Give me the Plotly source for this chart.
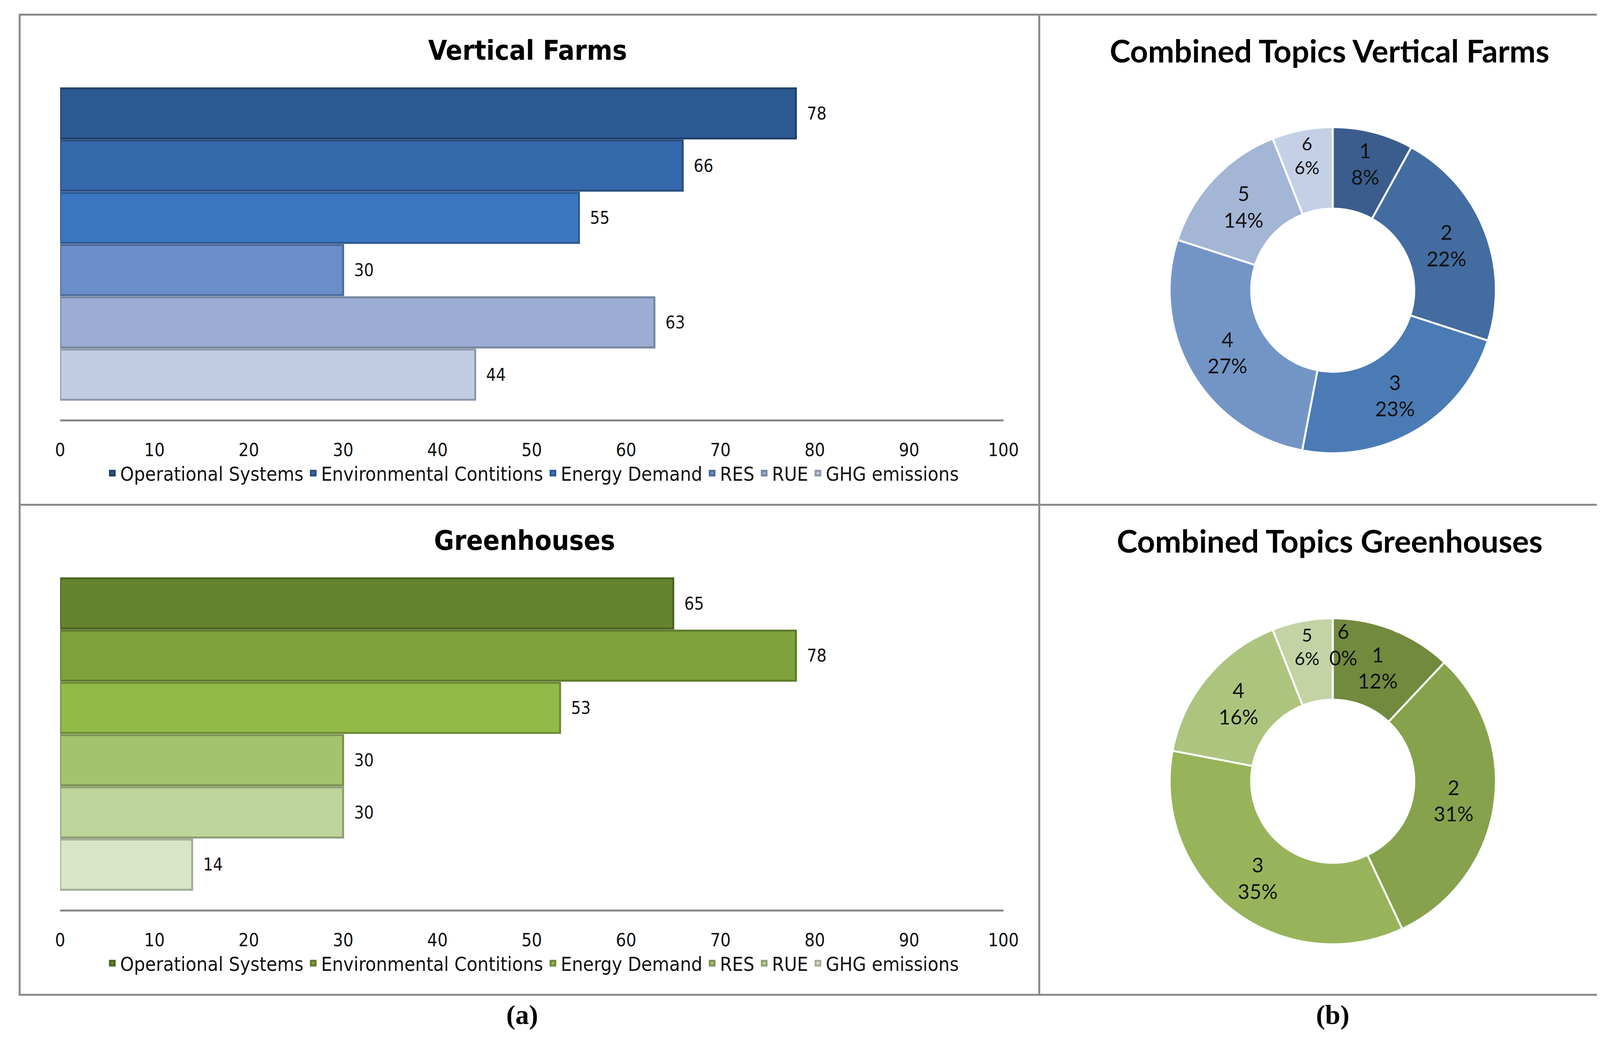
import plotly.graph_objects as go

# data
topics = ["Operational Systems", "Environmental Contitions", "Energy Demand", "RES", "RUE", "GHG emissions"]
vf_values = [78, 66, 55, 30, 63, 44]
gh_values = [65, 78, 53, 30, 30, 14]

combined_labels = ["1", "2", "3", "4", "5", "6"]
vf_combined = [8, 22, 23, 27, 14, 6]
gh_combined = [12, 31, 35, 16, 6, 0]

x_ticks = [0, 10, 20, 30, 40, 50, 60, 70, 80, 90, 100]

# colours
vf_bar_colors = ["#2b5a93", "#3568ab", "#3c76c0", "#6a8fc8", "#9badd3", "#c2cde4"]
vf_bar_lines = ["#23406a", "#284d80", "#2c5890", "#4d6a99", "#76869f", "#8f98aa"]
gh_bar_colors = ["#64842e", "#7ea33c", "#92ba48", "#a3c46d", "#bdd49b", "#d9e5c7"]
gh_bar_lines = ["#4a6122", "#5d792c", "#6c8a35", "#7a9252", "#8c9e74", "#a2ab95"]
vf_pie_colors = ["#3a5d8e", "#436ca0", "#4a7bb5", "#7395c6", "#a4b6d6", "#c4d0e5"]
gh_pie_colors = ["#718a3e", "#86a24c", "#98b45a", "#adc47f", "#c3d3a6", "#dbe5c9"]

W, H = 4222, 2663
DW, DH = 1568.0, 989.0  # coordinates measured on the reduced view


def px(xd):
    return xd / DW


def py(yd):
    return 1 - yd / DH


narrow = "Liberation Sans Narrow, DejaVu Sans Condensed, Liberation Sans, sans-serif"
sans = "Lato, Open Sans, sans-serif"

fig = go.Figure()

# bar charts
for values, colors, lines, xa, ya, leg in [
    (vf_values, vf_bar_colors, vf_bar_lines, "x", "y", "legend"),
    (gh_values, gh_bar_colors, gh_bar_lines, "x2", "y2", "legend2"),
]:
    for name, v, c, lc in zip(topics, values, colors, lines):
        fig.add_trace(go.Bar(
            x=[v], y=[name], orientation="h", name=name,
            marker=dict(color=c, line=dict(color=lc, width=5)),
            texttemplate="  %{x}", textposition="outside", cliponaxis=False,
            textfont=dict(family=narrow, size=44, color="#111111"),
            xaxis=xa, yaxis=ya, legend=leg, hoverinfo="x+name",
        ))

# donuts
pie_domains = [
    dict(x=[px(1118), px(1432)], y=[py(430), py(116)]),
    dict(x=[px(1118), px(1432)], y=[py(898), py(582)]),
]
for vals, colors, dom in zip([vf_combined, gh_combined], [vf_pie_colors, gh_pie_colors], pie_domains):
    fig.add_trace(go.Pie(
        labels=combined_labels, values=vals, hole=0.5, sort=False,
        direction="clockwise", rotation=0, domain=dom,
        marker=dict(colors=colors, line=dict(color="white", width=5)),
        texttemplate="%{label}<br>%{value}%", textposition="inside",
        insidetextorientation="horizontal",
        textfont=dict(family=sans, size=52, color="#111111"),
        showlegend=False,
    ))

# the zero-size slice gets no text from the pie itself, so label it at the top of the ring
for vals, dom in zip([vf_combined, gh_combined], pie_domains):
    for lab, v in zip(combined_labels, vals):
        if v == 0:
            fig.add_annotation(
                text="%s<br>%d%%" % (lab, v), xref="paper", yref="paper",
                x=(dom["x"][0] + dom["x"][1]) / 2 + 0.0065, y=dom["y"][1] - 0.028,
                showarrow=False, xanchor="center", yanchor="middle",
                font=dict(family=sans, size=52, color="#111111"))

axis_x = dict(range=[0, 100], tickvals=x_ticks, showgrid=False, zeroline=False,
              showline=True, linecolor="#868686", linewidth=5, ticks="",
              ticklabelstandoff=34, tickfont=dict(family=narrow, size=46, color="#111111"),
              fixedrange=True)
axis_y = dict(type="category", categoryarray=topics, range=[5.86, -0.5],
              showticklabels=False, showgrid=False, zeroline=False, showline=False)

legend_common = dict(orientation="h", xanchor="center", yanchor="middle",
                     font=dict(family=narrow, size=50, color="#111111"),
                     bgcolor="rgba(0,0,0,0)", itemwidth=30, tracegroupgap=0)

fig.update_layout(
    width=W, height=H,
    margin=dict(l=0, r=0, t=0, b=0),
    paper_bgcolor="white", plot_bgcolor="white",
    barmode="overlay", bargap=0.04,
    xaxis=dict(domain=[px(50), px(958)], anchor="y", **axis_x),
    yaxis=dict(domain=[py(396), py(80)], anchor="x", **axis_y),
    xaxis2=dict(domain=[px(50), px(958)], anchor="y2", **axis_x),
    yaxis2=dict(domain=[py(862), py(546)], anchor="x2", **axis_y),
    legend=dict(x=px(505), y=py(447), **legend_common),
    legend2=dict(x=px(505), y=py(913), **legend_common),
)

# titles and panel labels
titles = [
    ("Vertical Farms", 500, 45, narrow, 70),
    ("Greenhouses", 497, 511, narrow, 70),
    ("Combined Topics Vertical Farms", 1272, 45, sans, 80),
    ("Combined Topics Greenhouses", 1272, 511, sans, 80),
]
for txt, xd, yd, fam, size in titles:
    fig.add_annotation(text="<b>%s</b>" % txt, x=px(xd), y=py(yd), xref="paper", yref="paper",
                       showarrow=False, xanchor="center", yanchor="middle",
                       font=dict(family=fam, size=size, color="black"))

for txt, xd in [("(a)", 495), ("(b)", 1275)]:
    fig.add_annotation(text="<b>%s</b>" % txt, x=px(xd), y=py(962), xref="paper", yref="paper",
                       showarrow=False, xanchor="center", yanchor="middle",
                       font=dict(family="Liberation Serif, DejaVu Serif, serif", size=70, color="black"))

# panel frame
frame = dict(color="#8a8a8a", width=5)
fig.add_shape(type="rect", xref="paper", yref="paper", x0=px(11), x1=px(1556.5),
              y0=py(943), y1=py(11), line=frame)
fig.add_shape(type="line", xref="paper", yref="paper", x0=px(992.5), x1=px(992.5),
              y0=py(943), y1=py(11), line=frame)
fig.add_shape(type="line", xref="paper", yref="paper", x0=px(11), x1=px(1556.5),
              y0=py(477), y1=py(477), line=frame)

fig.write_html("out.html")
